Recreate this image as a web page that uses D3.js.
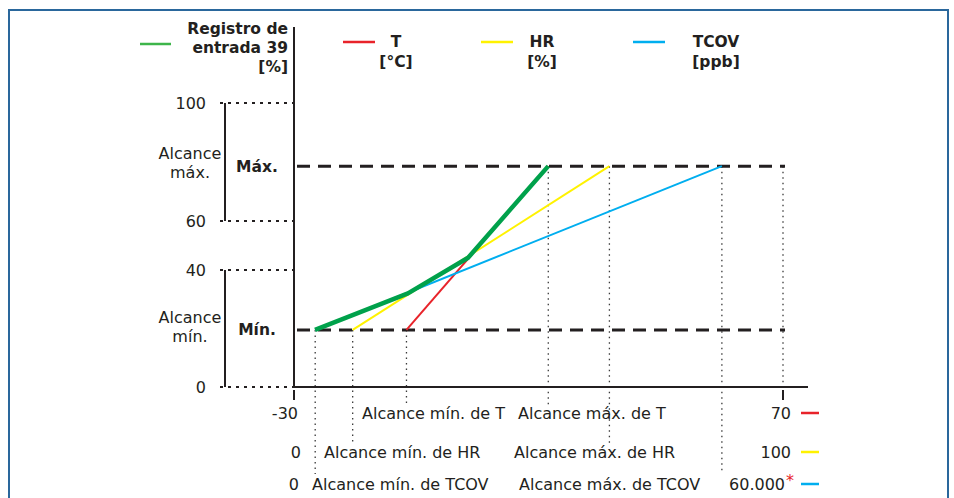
<!DOCTYPE html>
<html>
<head>
<meta charset="utf-8">
<script src="https://cdn.jsdelivr.net/npm/d3@7"></script>
<style>
  body { margin: 0; background: #fff; }
  text { font-family: "DejaVu Sans", Verdana, sans-serif; fill: #231f20; }
</style>
</head>
<body>
<svg id="chart" width="954" height="498"></svg>
<script>
// eje Y (Registro de entrada 39 [%])
const yTicks = [0, 40, 60, 100];
const regRange = [19.5, 78.6]; // Mín. / Máx.

// series de entrada
const seriesNames = ['T', 'HR', 'TCOV'];
const seriesUnits = ['[°C]', '[%]', '[ppb]'];
const seriesDomains = [[-30, 70], [0, 100], [0, 60000]];
const seriesMin = [-7, 12, 2600];
const seriesMax = [22, 64.5, 52500];
const startLabels = ['-30', '0', '0'];
const endLabels = ['70', '100', '60.000'];
const seriesColors = ['#e8232a', '#fff200', '#00aeef'];

// registro de entrada 39 (vertices leidos, x en unidades de T)
const greenX = [-25.7, -6.7, 5.6, 22];
const greenY = [19.5, 32, 45, 78.6];

function draw() {
  const svg = d3.select('#chart');
  const x0 = 294, x1 = 783;

  const y = d3.scaleLinear().domain(yTicks).range([387, 270, 221, 103]);
  const xs = seriesDomains.map(d => d3.scaleLinear().domain(d).range([x0, x1]));

  // marco
  svg.append('rect')
    .attr('x', 9).attr('y', 10)
    .attr('width', 939).attr('height', 500)
    .attr('fill', 'none')
    .attr('stroke', '#2a679c')
    .attr('stroke-width', 2);

  // lineas punteadas verticales
  const rowY = [413, 452, 484];
  const dots = svg.append('g')
    .attr('stroke', '#3a3a3a')
    .attr('stroke-width', 1.3)
    .attr('stroke-dasharray', '1.5,4');
  seriesNames.forEach((s, i) => {
    const bottom = [405, 443, 474][i];
    dots.append('line')
      .attr('x1', xs[i](seriesMin[i])).attr('x2', xs[i](seriesMin[i]))
      .attr('y1', y(regRange[0])).attr('y2', bottom);
    dots.append('line')
      .attr('x1', xs[i](seriesMax[i])).attr('x2', xs[i](seriesMax[i]))
      .attr('y1', y(regRange[1])).attr('y2', bottom);
  });
  dots.append('line')
    .attr('x1', x1).attr('x2', x1)
    .attr('y1', y(regRange[1])).attr('y2', y(0));

  // lineas discontinuas Mín. / Máx.
  regRange.forEach(v => {
    svg.append('line')
      .attr('x1', x0 + 3).attr('x2', x1 + 2)
      .attr('y1', y(v)).attr('y2', y(v))
      .attr('stroke', '#231f20')
      .attr('stroke-width', 3)
      .attr('stroke-dasharray', '13,8');
  });

  // ticks del eje Y
  yTicks.forEach(t => {
    svg.append('line')
      .attr('x1', 220).attr('x2', 294)
      .attr('y1', y(t)).attr('y2', y(t))
      .attr('stroke', '#231f20')
      .attr('stroke-width', 2)
      .attr('stroke-dasharray', '3,5');
    svg.append('text')
      .attr('x', 206).attr('y', y(t))
      .attr('dy', '0.35em')
      .attr('text-anchor', 'end')
      .style('font-size', '16px')
      .text(t);
  });

  // corchetes
  [[60, 100], [0, 40]].forEach(r => {
    svg.append('line')
      .attr('x1', 225).attr('x2', 225)
      .attr('y1', y(r[0])).attr('y2', y(r[1]))
      .attr('stroke', '#231f20')
      .attr('stroke-width', 2);
  });

  const left = [
    { l: ['Alcance', 'máx.'], b: 'Máx.', v: regRange[1] },
    { l: ['Alcance', 'mín.'], b: 'Mín.', v: regRange[0] }
  ];
  left.forEach(d => {
    svg.append('text')
      .attr('x', 190).attr('y', y(d.v) - 13)
      .attr('dy', '0.35em')
      .attr('text-anchor', 'middle')
      .style('font-size', '16px')
      .text(d.l[0]);
    svg.append('text')
      .attr('x', 190).attr('y', y(d.v) + 6.5)
      .attr('dy', '0.35em')
      .attr('text-anchor', 'middle')
      .style('font-size', '16px')
      .text(d.l[1]);
    svg.append('text')
      .attr('x', 257).attr('y', y(d.v))
      .attr('dy', '0.35em')
      .attr('text-anchor', 'middle')
      .style('font-size', '15.5px')
      .style('font-weight', 'bold')
      .text(d.b);
  });

  // ejes
  svg.append('line')
    .attr('x1', x0).attr('x2', x0).attr('y1', 27).attr('y2', 388)
    .attr('stroke', '#231f20').attr('stroke-width', 2);
  svg.append('line')
    .attr('x1', x0).attr('x2', 808).attr('y1', 387).attr('y2', 387)
    .attr('stroke', '#231f20').attr('stroke-width', 2);
  [x0, x1].forEach(px => {
    svg.append('line')
      .attr('x1', px).attr('x2', px).attr('y1', 390).attr('y2', 400)
      .attr('stroke', '#231f20').attr('stroke-width', 2);
  });

  // series
  seriesNames.forEach((s, i) => {
    svg.append('line')
      .attr('x1', xs[i](seriesMin[i])).attr('y1', y(regRange[0]))
      .attr('x2', xs[i](seriesMax[i])).attr('y2', y(regRange[1]))
      .attr('stroke', seriesColors[i])
      .attr('stroke-width', 2);
  });

  const line = d3.line().x(d => xs[0](d[0])).y(d => y(d[1]));
  svg.append('path')
    .datum(d3.zip(greenX, greenY))
    .attr('d', line)
    .attr('fill', 'none')
    .attr('stroke', '#00a14b')
    .attr('stroke-width', 4.5)
    .attr('stroke-linejoin', 'round');

  // etiquetas bajo el eje X
  const minX = [362, 324, 312];
  const maxX = [518, 514, 519];
  const startX = [298, 301, 299];
  seriesNames.forEach((s, i) => {
    svg.append('text')
      .attr('x', startX[i]).attr('y', rowY[i])
      .attr('dy', '0.35em').attr('text-anchor', 'end')
      .style('font-size', '16px')
      .text(startLabels[i]);
    svg.append('text')
      .attr('x', minX[i]).attr('y', rowY[i])
      .attr('dy', '0.35em')
      .style('font-size', '16px')
      .text('Alcance mín. de ' + s);
    svg.append('text')
      .attr('x', maxX[i]).attr('y', rowY[i])
      .attr('dy', '0.35em')
      .style('font-size', '16px')
      .text('Alcance máx. de ' + s);
    svg.append('text')
      .attr('x', i == 2 ? 785 : 791).attr('y', rowY[i])
      .attr('dy', '0.35em').attr('text-anchor', 'end')
      .style('font-size', '16px')
      .text(endLabels[i]);
    if (i == 2) {
      svg.append('text')
        .attr('x', 786).attr('y', rowY[i] - 4)
        .attr('dy', '0.35em')
        .style('font-size', '16px')
        .style('fill', '#e8232a')
        .text('*');
    }
    svg.append('line')
      .attr('x1', 801).attr('x2', 819)
      .attr('y1', rowY[i]).attr('y2', rowY[i])
      .attr('stroke', seriesColors[i])
      .attr('stroke-width', 2.5);
  });

  // leyenda superior
  const legX = [343, 481, 633];
  const legTextX = [396, 542, 716];
  seriesNames.forEach((s, i) => {
    svg.append('line')
      .attr('x1', legX[i]).attr('x2', legX[i] + 32)
      .attr('y1', 42).attr('y2', 42)
      .attr('stroke', seriesColors[i])
      .attr('stroke-width', 2.5);
    svg.append('text')
      .attr('x', legTextX[i]).attr('y', 42)
      .attr('dy', '0.35em').attr('text-anchor', 'middle')
      .style('font-size', '15.5px').style('font-weight', 'bold')
      .text(s);
    svg.append('text')
      .attr('x', legTextX[i]).attr('y', 62)
      .attr('dy', '0.35em').attr('text-anchor', 'middle')
      .style('font-size', '15.5px').style('font-weight', 'bold')
      .text(seriesUnits[i]);
  });
  svg.append('line')
    .attr('x1', 140).attr('x2', 171)
    .attr('y1', 44).attr('y2', 44)
    .attr('stroke', '#3db54a')
    .attr('stroke-width', 2.5);
  ['Registro de', 'entrada 39', '[%]'].forEach((t, k) => {
    svg.append('text')
      .attr('x', 288).attr('y', 29 + k * 19)
      .attr('dy', '0.35em').attr('text-anchor', 'end')
      .style('font-size', '15.5px').style('font-weight', 'bold')
      .text(t);
  });
}

window.onload = function() {
  draw();
};
</script>
</body>
</html>
